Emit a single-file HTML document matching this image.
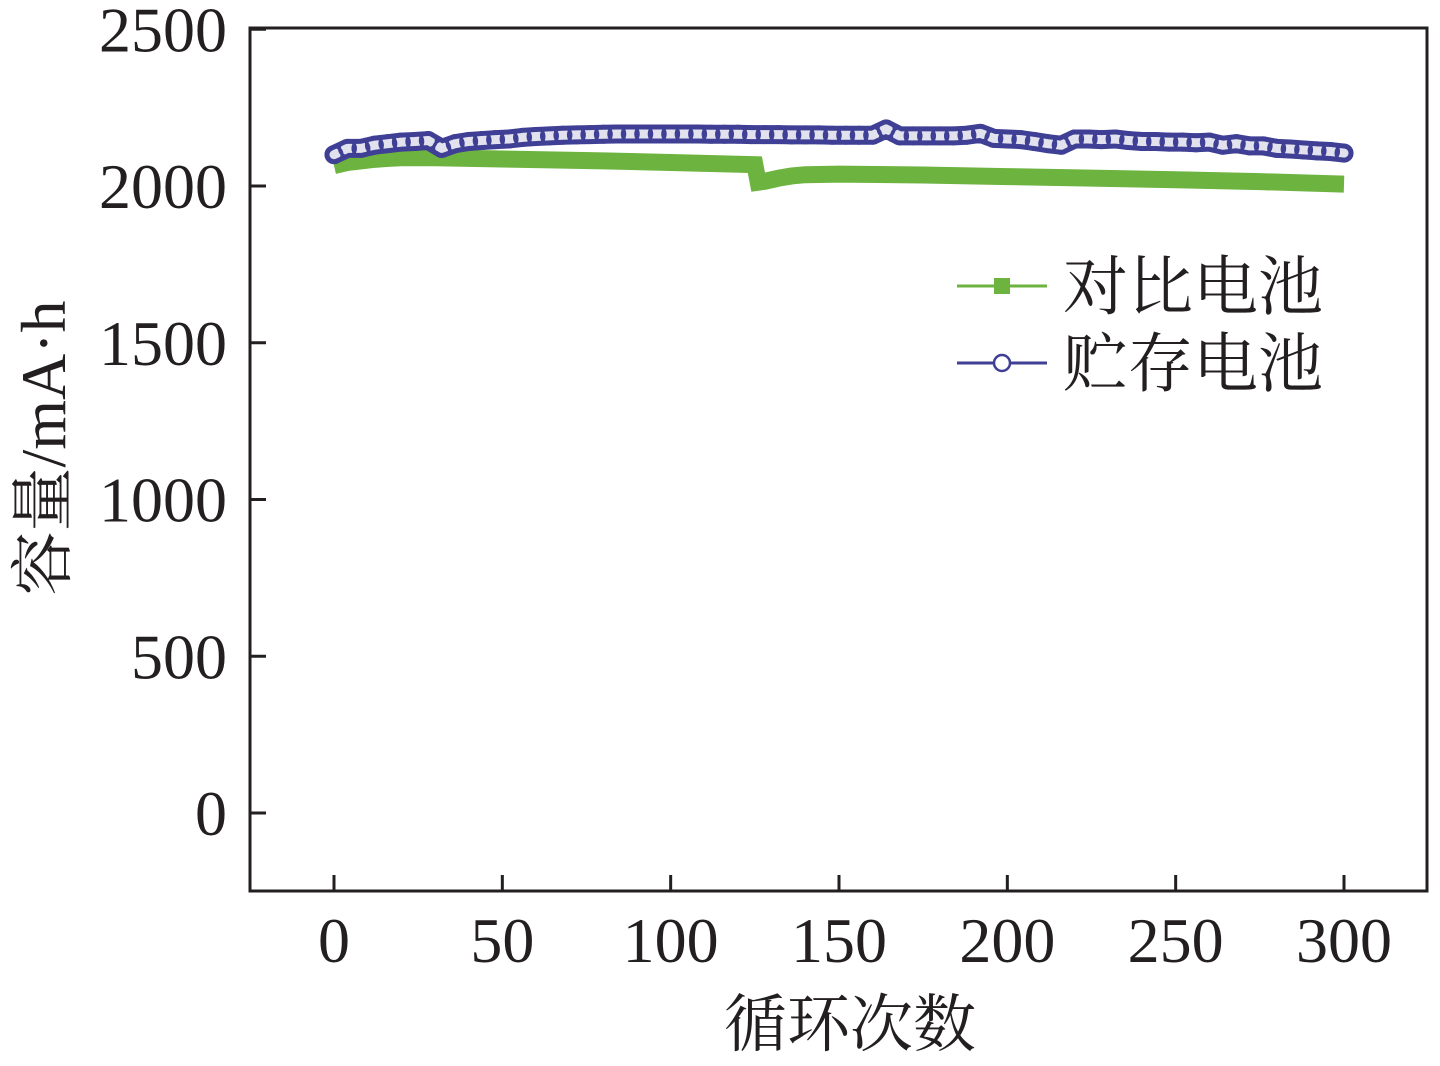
<!DOCTYPE html>
<html><head><meta charset="utf-8"><style>
body{margin:0;background:#fff;}
svg text{font-family:"Liberation Serif","Noto Serif CJK SC",serif;fill:#231f20;}
</style></head><body>
<svg id="chart" width="1440" height="1061" xmlns="http://www.w3.org/2000/svg">
<rect x="250" y="28" width="1177" height="863" fill="none" stroke="#231f20" stroke-width="3"/>
<g id="ticks"></g>
<g id="series"></g>
<text x="850" y="1046" font-size="63" text-anchor="middle" style="font-family:'Noto Serif CJK SC',serif">循环次数</text>
<text transform="translate(65,448) rotate(-90)" font-size="64" text-anchor="middle"><tspan style="font-family:'Noto Serif CJK SC',serif">容量</tspan>/mA·h</text>
<g>
<line x1="957" y1="286" x2="1047" y2="286" stroke="#6db33f" stroke-width="3"/>
<rect x="994" y="278" width="16" height="16" fill="#6db33f"/>
<text x="1063" y="309" font-size="65" style="font-family:'Noto Serif CJK SC',serif">对比电池</text>
<line x1="957" y1="363" x2="1047" y2="363" stroke="#3f3f95" stroke-width="3"/>
<circle cx="1002" cy="363" r="8" fill="#fff" stroke="#3f3f95" stroke-width="2.5"/>
<text x="1063" y="386" font-size="65" style="font-family:'Noto Serif CJK SC',serif">贮存电池</text>
</g>
</svg>
<script>
const xTicks=[0,50,100,150,200,250,300];
const yTicks=[0,500,1000,1500,2000,2500];
const greenCycles=[0,4,8,12,16,20,30,40,60,80,100,125,126,128,132,136,140,150,175,200,225,250,275,300];
const greenValues=[2065,2075,2080,2085,2088,2090,2090,2088,2084,2080,2075,2068,2012,2015,2025,2032,2036,2038,2035,2030,2025,2020,2014,2006];
const blueCycles=[0,4,8,12,16,20,24,28,32,36,40,44,48,52,56,60,64,68,72,76,80,84,88,92,96,100,104,108,112,116,120,124,128,132,136,140,144,148,152,156,160,164,168,172,176,180,184,188,192,196,200,204,208,212,216,220,224,228,232,236,240,244,248,252,256,260,264,268,272,276,280,284,288,292,296,300];
const blueValues=[2100,2120,2120,2130,2135,2140,2142,2145,2120,2135,2142,2145,2148,2150,2155,2158,2160,2162,2163,2164,2165,2166,2166,2166,2166,2166,2166,2166,2165,2165,2165,2164,2164,2164,2163,2163,2163,2162,2162,2162,2162,2182,2160,2160,2160,2160,2160,2162,2168,2152,2150,2148,2142,2135,2130,2150,2150,2148,2150,2145,2142,2142,2140,2140,2138,2140,2130,2135,2128,2128,2120,2118,2115,2112,2110,2105];
const NS="http://www.w3.org/2000/svg";
const X=c=>334+c*(1344-334)/300;
const Y=v=>813-v*(813-186)/2000;
const tg=document.getElementById('ticks'),sg=document.getElementById('series');
function mk(t,a,p){const e=document.createElementNS(NS,t);for(const k in a)e.setAttribute(k,a[k]);p.appendChild(e);return e;}
xTicks.forEach(t=>{
 const l=mk('line',{x1:X(t),x2:X(t),y1:875,y2:891,stroke:'#231f20','stroke-width':3},tg);
 
 
 const s=mk('text',{x:X(t),y:962,'font-size':64,'text-anchor':'middle'},tg);s.textContent=t;
 
 
});
yTicks.forEach(t=>{
 const l=mk('line',{x1:250,x2:266,y1:Y(t),y2:Y(t),stroke:'#231f20','stroke-width':3},tg);
 
 
 const s=mk('text',{x:227,y:Y(t)+22,'font-size':64,'text-anchor':'end'},tg);s.textContent=t;
 
 
});
const gp=mk('polyline',{points:greenCycles.map((c,i)=>X(c)+','+Y(greenValues[i])).join(' '),fill:'none',stroke:'#6db33f','stroke-width':17,'stroke-linejoin':'miter','stroke-linecap':'butt'},sg);


const bpts=blueCycles.map((c,i)=>X(c)+','+Y(blueValues[i])).join(' ');
const bb=mk('polyline',{points:bpts,fill:'none',stroke:'#3f3f95','stroke-width':19,'stroke-linejoin':'round','stroke-linecap':'round'},sg);


const bw=mk('polyline',{points:bpts,fill:'none',stroke:'#fff','stroke-width':9,'stroke-linejoin':'round','stroke-linecap':'round','stroke-opacity':0.85},sg);


blueCycles.forEach((c,i)=>{
 const p=mk('circle',{cx:X(c),cy:Y(blueValues[i]),r:8,fill:'none',stroke:'#3f3f95','stroke-width':3},sg);
 
 
});
</script>
</body></html>
